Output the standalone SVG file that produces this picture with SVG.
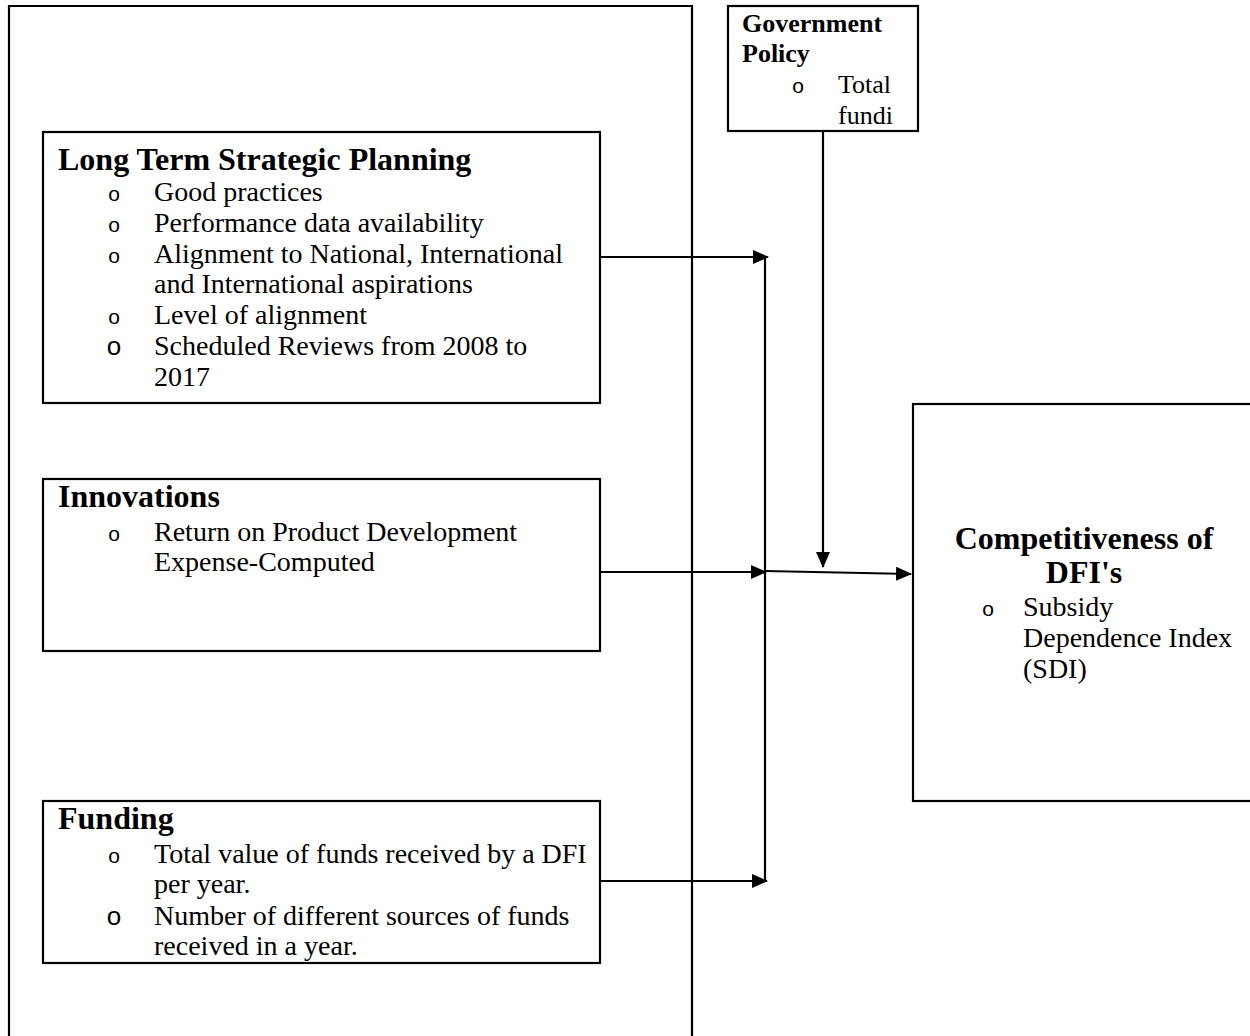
<svg xmlns="http://www.w3.org/2000/svg" width="1250" height="1036" viewBox="0 0 1250 1036">
<style>
.box{fill:#fff;stroke:#000;stroke-width:2.2}
.frame{fill:none;stroke:#000;stroke-width:2.2}
.t{font-family:"Liberation Serif","Times New Roman",serif;font-size:28px;fill:#000}
.h{font-family:"Liberation Serif","Times New Roman",serif;font-size:32px;font-weight:bold;fill:#000}
.gh{font-family:"Liberation Serif","Times New Roman",serif;font-size:26px;font-weight:bold;fill:#000}
.gt{font-family:"Liberation Serif","Times New Roman",serif;font-size:26px;fill:#000}
.b{font-family:"Liberation Sans",Arial,sans-serif;font-size:21px;fill:#000;text-anchor:middle}
.bb{font-family:"Liberation Sans",Arial,sans-serif;font-size:26px;fill:#000;text-anchor:middle}
.c{fill:none;stroke:#000;stroke-width:2.2}
</style>
<defs>
<marker id="ah" markerUnits="userSpaceOnUse" markerWidth="16" markerHeight="14" refX="15" refY="7" orient="auto">
<path d="M0,0 L16,7 L0,14 Z" fill="#000"/>
</marker>
</defs>
<rect width="1250" height="1036" fill="#fff"/>
<g id="outer-frame">
<path class="frame" d="M9,1040 L9,6 L692,6 L692,1040"/>
</g>
<g id="ltsp">
<rect class="box" x="43" y="132" width="557" height="271"/>
<text class="h" x="58" y="170">Long Term Strategic Planning</text>
<text class="b" x="114" y="201">o</text>
<text class="t" x="154" y="201">Good practices</text>
<text class="b" x="114" y="232">o</text>
<text class="t" x="154" y="232">Performance data availability</text>
<text class="b" x="114" y="263">o</text>
<text class="t" x="154" y="263">Alignment to National, International</text>
<text class="t" x="154" y="293">and International aspirations</text>
<text class="b" x="114" y="324">o</text>
<text class="t" x="154" y="324">Level of alignment</text>
<text class="bb" x="114" y="355">o</text>
<text class="t" x="154" y="355">Scheduled Reviews from 2008 to</text>
<text class="t" x="154" y="386">2017</text>
</g>
<g id="innovations">
<rect class="box" x="43" y="479" width="557" height="172"/>
<text class="h" x="58" y="507">Innovations</text>
<text class="b" x="114" y="541">o</text>
<text class="t" x="154" y="541">Return on Product Development</text>
<text class="t" x="154" y="571">Expense-Computed</text>
</g>
<g id="funding">
<rect class="box" x="43" y="801" width="557" height="162"/>
<text class="h" x="58" y="829">Funding</text>
<text class="b" x="114" y="863">o</text>
<text class="t" x="154" y="863">Total value of funds received by a DFI</text>
<text class="t" x="154" y="893">per year.</text>
<text class="bb" x="114" y="925">o</text>
<text class="t" x="154" y="925">Number of different sources of funds</text>
<text class="t" x="154" y="955">received in a year.</text>
</g>
<g id="government-policy">
<rect class="box" x="728" y="6" width="190" height="125"/>
<text class="gh" x="742" y="32">Government</text>
<text class="gh" x="742" y="62">Policy</text>
<text class="b" x="798" y="93">o</text>
<text class="gt" x="838" y="93">Total</text>
<text class="gt" x="838" y="124">fundi</text>
</g>
<g id="competitiveness">
<rect class="box" x="913" y="404" width="350" height="397"/>
<text class="h" x="1084" y="549" text-anchor="middle">Competitiveness of</text>
<text class="h" x="1084" y="583" text-anchor="middle">DFI's</text>
<text class="b" x="988" y="616">o</text>
<text class="t" x="1023" y="616">Subsidy</text>
<text class="t" x="1023" y="647">Dependence Index</text>
<text class="t" x="1023" y="678">(SDI)</text>
</g>
<g id="connectors">
<line class="c" x1="600" y1="257" x2="768" y2="257" marker-end="url(#ah)"/>
<line class="c" x1="600" y1="572" x2="766" y2="572" marker-end="url(#ah)"/>
<line class="c" x1="600" y1="881" x2="767" y2="881" marker-end="url(#ah)"/>
<line class="c" x1="765" y1="257" x2="765" y2="882"/>
<line class="c" x1="765" y1="571" x2="911" y2="574" marker-end="url(#ah)"/>
<line class="c" x1="823" y1="131" x2="823" y2="567" marker-end="url(#ah)"/>
</g>
</svg>
